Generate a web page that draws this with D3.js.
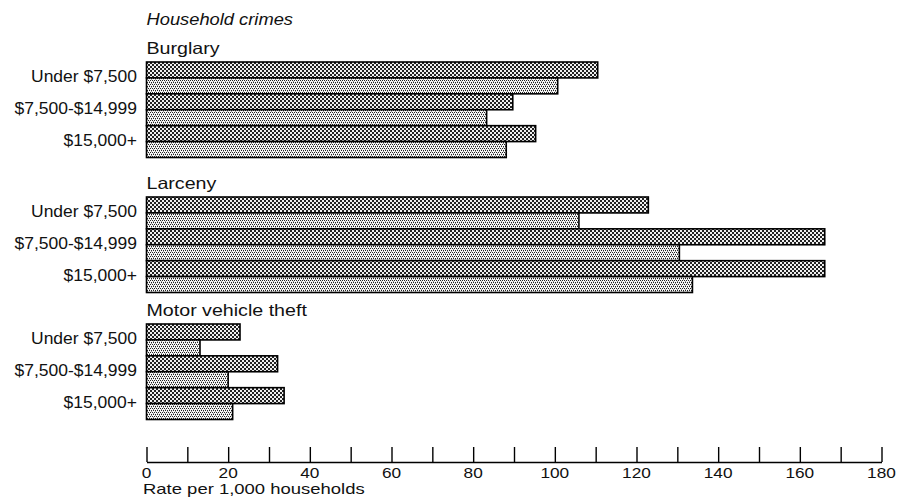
<!DOCTYPE html>
<html>
<head>
<meta charset="utf-8">
<script src="https://cdn.jsdelivr.net/npm/d3@7"></script>
<style>
  html, body { margin: 0; padding: 0; background: #fff; }
  svg { display: block; font-family: "Liberation Sans", Arial, Helvetica, sans-serif; }
</style>
</head>
<body>
<svg id="chart" width="901" height="502"></svg>
<script>
// ---- data ----
const chartTitle = "Household crimes";
const crimeTypes = ["Burglary", "Larceny", "Motor vehicle theft"];
const incomeGroups = ["Under $7,500", "$7,500-$14,999", "$15,000+"];
// dark-pattern bar (first of each pair) and light-pattern bar (second)
const burglaryDark  = [110.5, 89.7, 95.3];
const burglaryLight = [100.7, 83.3, 88.1];
const larcenyDark   = [122.9, 166.1, 166.1];
const larcenyLight  = [105.9, 130.5, 133.7];
const motorDark     = [22.9, 32.1, 33.7];
const motorLight    = [13.1, 20.0, 21.1];
const xTickValues   = d3.range(0, 181, 10);
const xLabelValues  = d3.range(0, 181, 20);
const xAxisTitle    = "Rate per 1,000 households";

const darkSeries  = [burglaryDark, larcenyDark, motorDark];
const lightSeries = [burglaryLight, larcenyLight, motorLight];

// ---- layout ----
const svg = d3.select("#chart");
const x = d3.scaleLinear().domain([0, 180]).range([146.5, 881.5]);
const groupTops = [62, 197, 324];
const groupHeight = 95.5;
const axisY = 462;

function stretchedText(sel, px, py, sx) {
  return sel.append("text")
    .attr("transform", `translate(${px},${py}) scale(${sx},1)`)
    .attr("fill", "#111");
}

const defs = svg.append("defs");
// dark checker pattern
const pd = defs.append("pattern").attr("id", "darkPat")
  .attr("width", 4).attr("height", 4).attr("patternUnits", "userSpaceOnUse");
pd.append("rect").attr("width", 4).attr("height", 4).attr("fill", "#f0f0f0");
pd.append("rect").attr("x", 0).attr("y", 0).attr("width", 2).attr("height", 2).attr("fill", "#222");
pd.append("rect").attr("x", 2).attr("y", 2).attr("width", 2).attr("height", 2).attr("fill", "#222");
// light dotted pattern
const pl = defs.append("pattern").attr("id", "lightPat")
  .attr("width", 4).attr("height", 4).attr("patternUnits", "userSpaceOnUse");
pl.append("rect").attr("width", 4).attr("height", 4).attr("fill", "#f8f8f8");
[[0, 0], [2, 0], [1, 2], [3, 2]].forEach(([px, py]) => {
  pl.append("rect").attr("x", px).attr("y", py).attr("width", 1).attr("height", 1).attr("fill", "#222");
});
[[1, 1], [3, 3]].forEach(([px, py]) => {
  pl.append("rect").attr("x", px).attr("y", py).attr("width", 1).attr("height", 1).attr("fill", "#999");
});

// chart title
stretchedText(svg, x(0), 25, 1.11)
  .attr("font-size", 16.5).attr("font-style", "italic")
  .text(chartTitle);

crimeTypes.forEach((crime, gi) => {
  const top = groupTops[gi];
  const g = svg.append("g");
  stretchedText(g, x(0), top - 8, 1.19)
    .attr("font-size", 16.5)
    .text(crime);

  const rowKeys = [];
  incomeGroups.forEach(inc => { rowKeys.push(inc + "|d"); rowKeys.push(inc + "|l"); });
  const y = d3.scaleBand().domain(rowKeys).range([top, top + groupHeight]).padding(0);

  const rows = [];
  incomeGroups.forEach((inc, i) => {
    rows.push({ key: inc + "|d", value: darkSeries[gi][i], fill: "url(#darkPat)" });
    rows.push({ key: inc + "|l", value: lightSeries[gi][i], fill: "url(#lightPat)" });
  });

  g.selectAll("rect.bar").data(rows).enter().append("rect")
    .attr("class", "bar")
    .attr("x", x(0))
    .attr("y", d => y(d.key))
    .attr("width", d => x(d.value) - x(0))
    .attr("height", y.bandwidth())
    .attr("fill", d => d.fill)
    .attr("stroke", "#000").attr("stroke-width", 1.6);

  incomeGroups.forEach(inc => {
    stretchedText(g, 137, y(inc + "|l") + 4, 1.06)
      .attr("class", "cat")
      .attr("text-anchor", "end")
      .attr("font-size", 16.5)
      .text(inc);
  });
});

// x axis (ticks pointing up, labels below)
const axis = d3.axisTop(x).tickValues(xTickValues).tickSize(15).tickSizeOuter(0).tickFormat("");
const ax = svg.append("g").attr("transform", `translate(0,${axisY})`).call(axis);
ax.select(".domain").attr("stroke", "#000").attr("stroke-width", 1.6);
ax.selectAll(".tick line").attr("stroke", "#000").attr("stroke-width", 1.4);

xLabelValues.forEach(v => {
  stretchedText(svg, x(v), axisY + 15.5, 1.15)
    .attr("class", "xl")
    .attr("text-anchor", "middle")
    .attr("font-size", 15)
    .text(v);
});

stretchedText(svg, 143, axisY + 31.5, 1.32)
  .attr("font-size", 14)
  .text(xAxisTitle);
</script>
</body>
</html>
